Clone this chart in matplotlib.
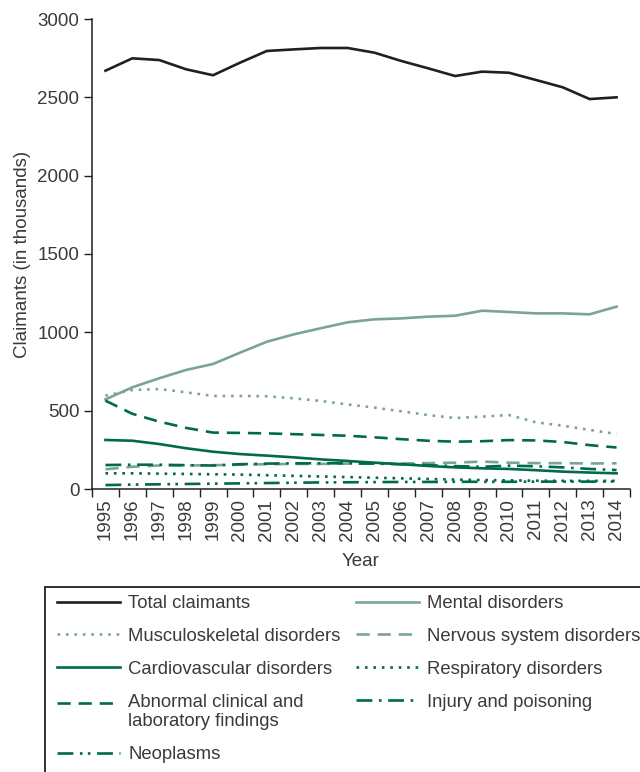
import numpy as np
import matplotlib
matplotlib.use("Agg")
import matplotlib.pyplot as plt
from matplotlib import font_manager
from matplotlib.patches import Rectangle
from matplotlib.legend_handler import HandlerLine2D

names = {f.name for f in font_manager.fontManager.ttflist}
FONT = "Liberation Sans Narrow" if "Liberation Sans Narrow" in names else "Liberation Sans"
plt.rcParams['font.family'] = [FONT, 'DejaVu Sans']

years = [str(y) for y in range(1995, 2015)]
total = [2670, 2749, 2738, 2679, 2641, 2721, 2796, 2806, 2815, 2815, 2785, 2732, 2685, 2636, 2664, 2657, 2611, 2564, 2489, 2500]
mental = [572, 649, 707, 760, 798, 870, 940, 987, 1026, 1064, 1083, 1089, 1100, 1106, 1138, 1130, 1121, 1121, 1115, 1164]
musculo = [596, 632, 638, 617, 594, 594, 592, 579, 562, 540, 519, 496, 472, 453, 462, 472, 426, 404, 377, 351]
nervous = [126, 142, 150, 150, 152, 155, 158, 160, 160, 162, 162, 163, 165, 168, 175, 168, 165, 165, 163, 164]
cardio = [313, 308, 287, 260, 238, 223, 213, 202, 189, 179, 168, 158, 147, 138, 132, 128, 120, 111, 105, 100]
resp = [100, 100, 98, 96, 94, 92, 88, 84, 80, 76, 72, 68, 64, 60, 57, 55, 53, 52, 52, 52]
abnormal = [564, 480, 430, 390, 360, 358, 355, 350, 345, 340, 330, 318, 308, 302, 305, 312, 310, 300, 280, 265]
injury = [153, 155, 155, 152, 150, 158, 162, 164, 164, 164, 162, 158, 152, 146, 142, 149, 145, 138, 128, 121]
neoplasms = [25, 28, 30, 32, 34, 36, 38, 40, 42, 43, 44, 45, 45, 46, 46, 46, 47, 47, 47, 48]

BLACK = "#231f20"
LIGHT = "#7ba494"
DARK = "#006a4e"
TXT = "#3a3a3a"


class UpHandler(HandlerLine2D):
    def __init__(self, dy, **kw):
        super().__init__(**kw)
        self.dy = dy

    def create_artists(self, legend, orig_handle, xdescent, ydescent, width, height, fontsize, trans):
        arts = super().create_artists(legend, orig_handle, xdescent, ydescent, width, height, fontsize, trans)
        for a in arts:
            a.set_ydata(np.asarray(a.get_ydata(), dtype=float) + self.dy)
        return arts


fig = plt.figure(figsize=(6.4, 7.72), dpi=100)
ax = fig.add_axes([92/640, 1-489/772, (630-92)/640, (489-19)/772])
x = list(range(len(years)))
lw = 1.9

series = [
    ("Total claimants", total, BLACK, "-"),
    ("Mental disorders", mental, LIGHT, "-"),
    ("Musculoskeletal disorders", musculo, LIGHT, (0, (1, 2.2))),
    ("Nervous system disorders", nervous, LIGHT, (0, (5, 3))),
    ("Cardiovascular disorders", cardio, DARK, "-"),
    ("Respiratory disorders", resp, DARK, (0, (1, 2.2))),
    ("Abnormal clinical and\nlaboratory findings", abnormal, DARK, (0, (5, 3))),
    ("Injury and poisoning", injury, DARK, (0, (6, 2.5, 1, 2.5))),
    ("Neoplasms", neoplasms, DARK, (0, (6, 2.5, 1, 2, 1, 2.5))),
]
handles = {}
for name, vals, col, ls in series:
    ln, = ax.plot(x, vals, color=col, linestyle=ls, linewidth=lw, label=name)
    handles[name] = ln

ax.set_xlim(-0.5, len(years) - 0.5)
ax.set_ylim(0, 3000)
ax.set_yticks([0, 500, 1000, 1500, 2000, 2500, 3000])
ax.set_xticks([i - 0.5 for i in range(len(years) + 1)])
ax.set_xticklabels([])
ax.set_xticks(x, minor=True)
ax.set_xticklabels(years, minor=True, rotation=90)
ax.tick_params(axis='x', which='minor', length=0, pad=7, labelsize=13.5, labelcolor=TXT)
ax.tick_params(axis='x', which='major', direction='out', length=6, width=1, color=BLACK)
ax.tick_params(axis='y', direction='out', length=6, width=1, color=BLACK, labelsize=13.5, labelcolor=TXT, pad=3)
for s in ['top', 'right']:
    ax.spines[s].set_visible(False)
for s in ['left', 'bottom']:
    ax.spines[s].set_color(BLACK)
    ax.spines[s].set_linewidth(1.1)

ax.set_xlabel("Year", fontsize=13.5, color=TXT, labelpad=9)
ax.set_ylabel("Claimants (in thousands)", fontsize=13.5, color=TXT, labelpad=5)

fig.patches.append(Rectangle((45/640, -0.05), 1.0, 0.05 + (1-587/772), transform=fig.transFigure,
                             fill=False, edgecolor=BLACK, linewidth=1.3, clip_on=False))

ABN = "Abnormal clinical and\nlaboratory findings"
order = ["Total claimants", "Musculoskeletal disorders", "Cardiovascular disorders",
         ABN, "Neoplasms",
         "Mental disorders", "Nervous system disorders", "Respiratory disorders", "Injury and poisoning"]
leg = fig.legend([handles[n] for n in order], order, ncol=2, frameon=False,
                 loc='upper left', bbox_to_anchor=(57/640, 1-595/772),
                 fontsize=13.3, handlelength=3.4, handletextpad=0.45, columnspacing=0.85,
                 labelspacing=0.86, borderaxespad=0, borderpad=0,
                 handler_map={handles[ABN]: UpHandler(6.8)})
for t in leg.get_texts():
    t.set_color(TXT)

fig.savefig("out.png", dpi=100)
